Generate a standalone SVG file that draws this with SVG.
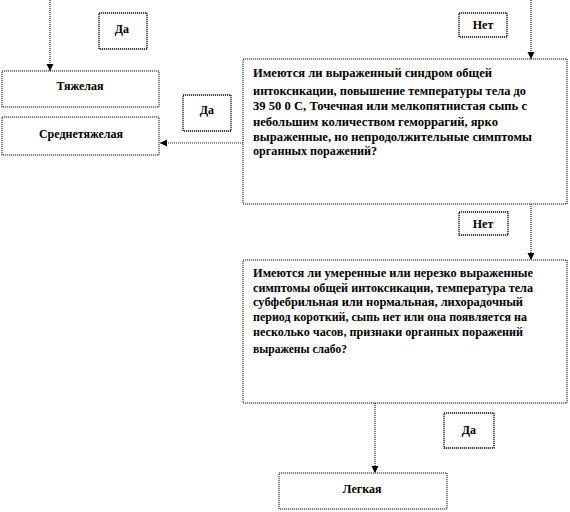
<svg xmlns="http://www.w3.org/2000/svg" width="570" height="512" viewBox="0 0 570 512">
<defs>
<style>
.box{fill:#fff;stroke:#111;stroke-width:1;stroke-dasharray:1.2 0.8}
.lbl{fill:#fff;stroke:#111;stroke-width:1.3;stroke-dasharray:1.2 0.8}
.ln{fill:none;stroke:#222;stroke-width:1.2;stroke-dasharray:1 1}
text{font-family:"Liberation Serif","Times New Roman",serif;font-weight:bold;font-size:12px;fill:#000}
.c{text-anchor:middle}
</style>
<marker id="ah" markerWidth="8" markerHeight="8" refX="7" refY="4" orient="auto" markerUnits="userSpaceOnUse">
<path d="M0,0.5 L7,4 L0,7.5 Z" fill="#000"/>
</marker>
</defs>
<rect width="570" height="512" fill="#fff"/>
<g id="connectors">
<line class="ln" x1="50" y1="0" x2="50" y2="71" marker-end="url(#ah)"/>
<line class="ln" x1="531" y1="0" x2="531" y2="59" marker-end="url(#ah)"/>
<line class="ln" x1="243" y1="143" x2="160" y2="143" marker-end="url(#ah)"/>
<line class="ln" x1="531" y1="204" x2="531" y2="260" marker-end="url(#ah)"/>
<line class="ln" x1="375" y1="403" x2="375" y2="473" marker-end="url(#ah)"/>
</g>
<g id="n-da1"><rect class="lbl" x="99" y="13" width="48" height="36"/><text class="c" x="122" y="33">Да</text></g>
<g id="n-net1"><rect class="lbl" x="459" y="13" width="48" height="24"/><text class="c" x="483" y="29">Нет</text></g>
<g id="n-heavy"><rect class="box" x="2" y="71" width="157" height="36"/><text class="c" x="80" y="90">Тяжелая</text></g>
<g id="n-mid"><rect class="box" x="2" y="117" width="157" height="38"/><text class="c" x="81" y="138">Среднетяжелая</text></g>
<g id="n-da2"><rect class="lbl" x="183" y="95" width="48" height="36"/><text class="c" x="207" y="114">Да</text></g>
<g id="n-q1"><rect class="box" x="243" y="59" width="324" height="145"/>
<text x="253" y="77" textLength="239" lengthAdjust="spacingAndGlyphs">Имеются ли выраженный синдром общей</text>
<text x="253" y="95" textLength="273" lengthAdjust="spacingAndGlyphs">интоксикации,  повышение температуры тела  до</text>
<text x="253" y="110" textLength="274" lengthAdjust="spacingAndGlyphs">39  50 0 С, Точечная  или мелкопятнистая  сыпь с</text>
<text x="253" y="126" textLength="245" lengthAdjust="spacingAndGlyphs">небольшим количеством  геморрагий, ярко</text>
<text x="253" y="141" textLength="279" lengthAdjust="spacingAndGlyphs">выраженные,  но непродолжительные  симптомы</text>
<text x="253" y="155" textLength="124" lengthAdjust="spacingAndGlyphs">органных  поражений?</text>
</g>
<g id="n-net2"><rect class="lbl" x="459" y="212" width="49" height="23"/><text class="c" x="483" y="228">Нет</text></g>
<g id="n-q2"><rect class="box" x="243" y="260" width="324" height="143"/>
<text x="253" y="277" textLength="280" lengthAdjust="spacingAndGlyphs">Имеются ли умеренные или нерезко выраженные</text>
<text x="253" y="292" textLength="280" lengthAdjust="spacingAndGlyphs">симптомы  общей интоксикации,  температура тела</text>
<text x="253" y="306" textLength="270" lengthAdjust="spacingAndGlyphs">субфебрильная или нормальная, лихорадочный</text>
<text x="253" y="321" textLength="274" lengthAdjust="spacingAndGlyphs">период короткий, сыпь нет или она появляется  на</text>
<text x="253" y="336" textLength="270" lengthAdjust="spacingAndGlyphs">несколько часов, признаки органных  поражений</text>
<text x="253" y="353" textLength="94" lengthAdjust="spacingAndGlyphs">выражены слабо?</text>
</g>
<g id="n-da3"><rect class="lbl" x="444" y="413" width="50" height="35"/><text class="c" x="469" y="434">Да</text></g>
<g id="n-light"><rect class="box" x="279" y="473" width="168" height="36"/><text class="c" x="362" y="493">Легкая</text></g>
</svg>
